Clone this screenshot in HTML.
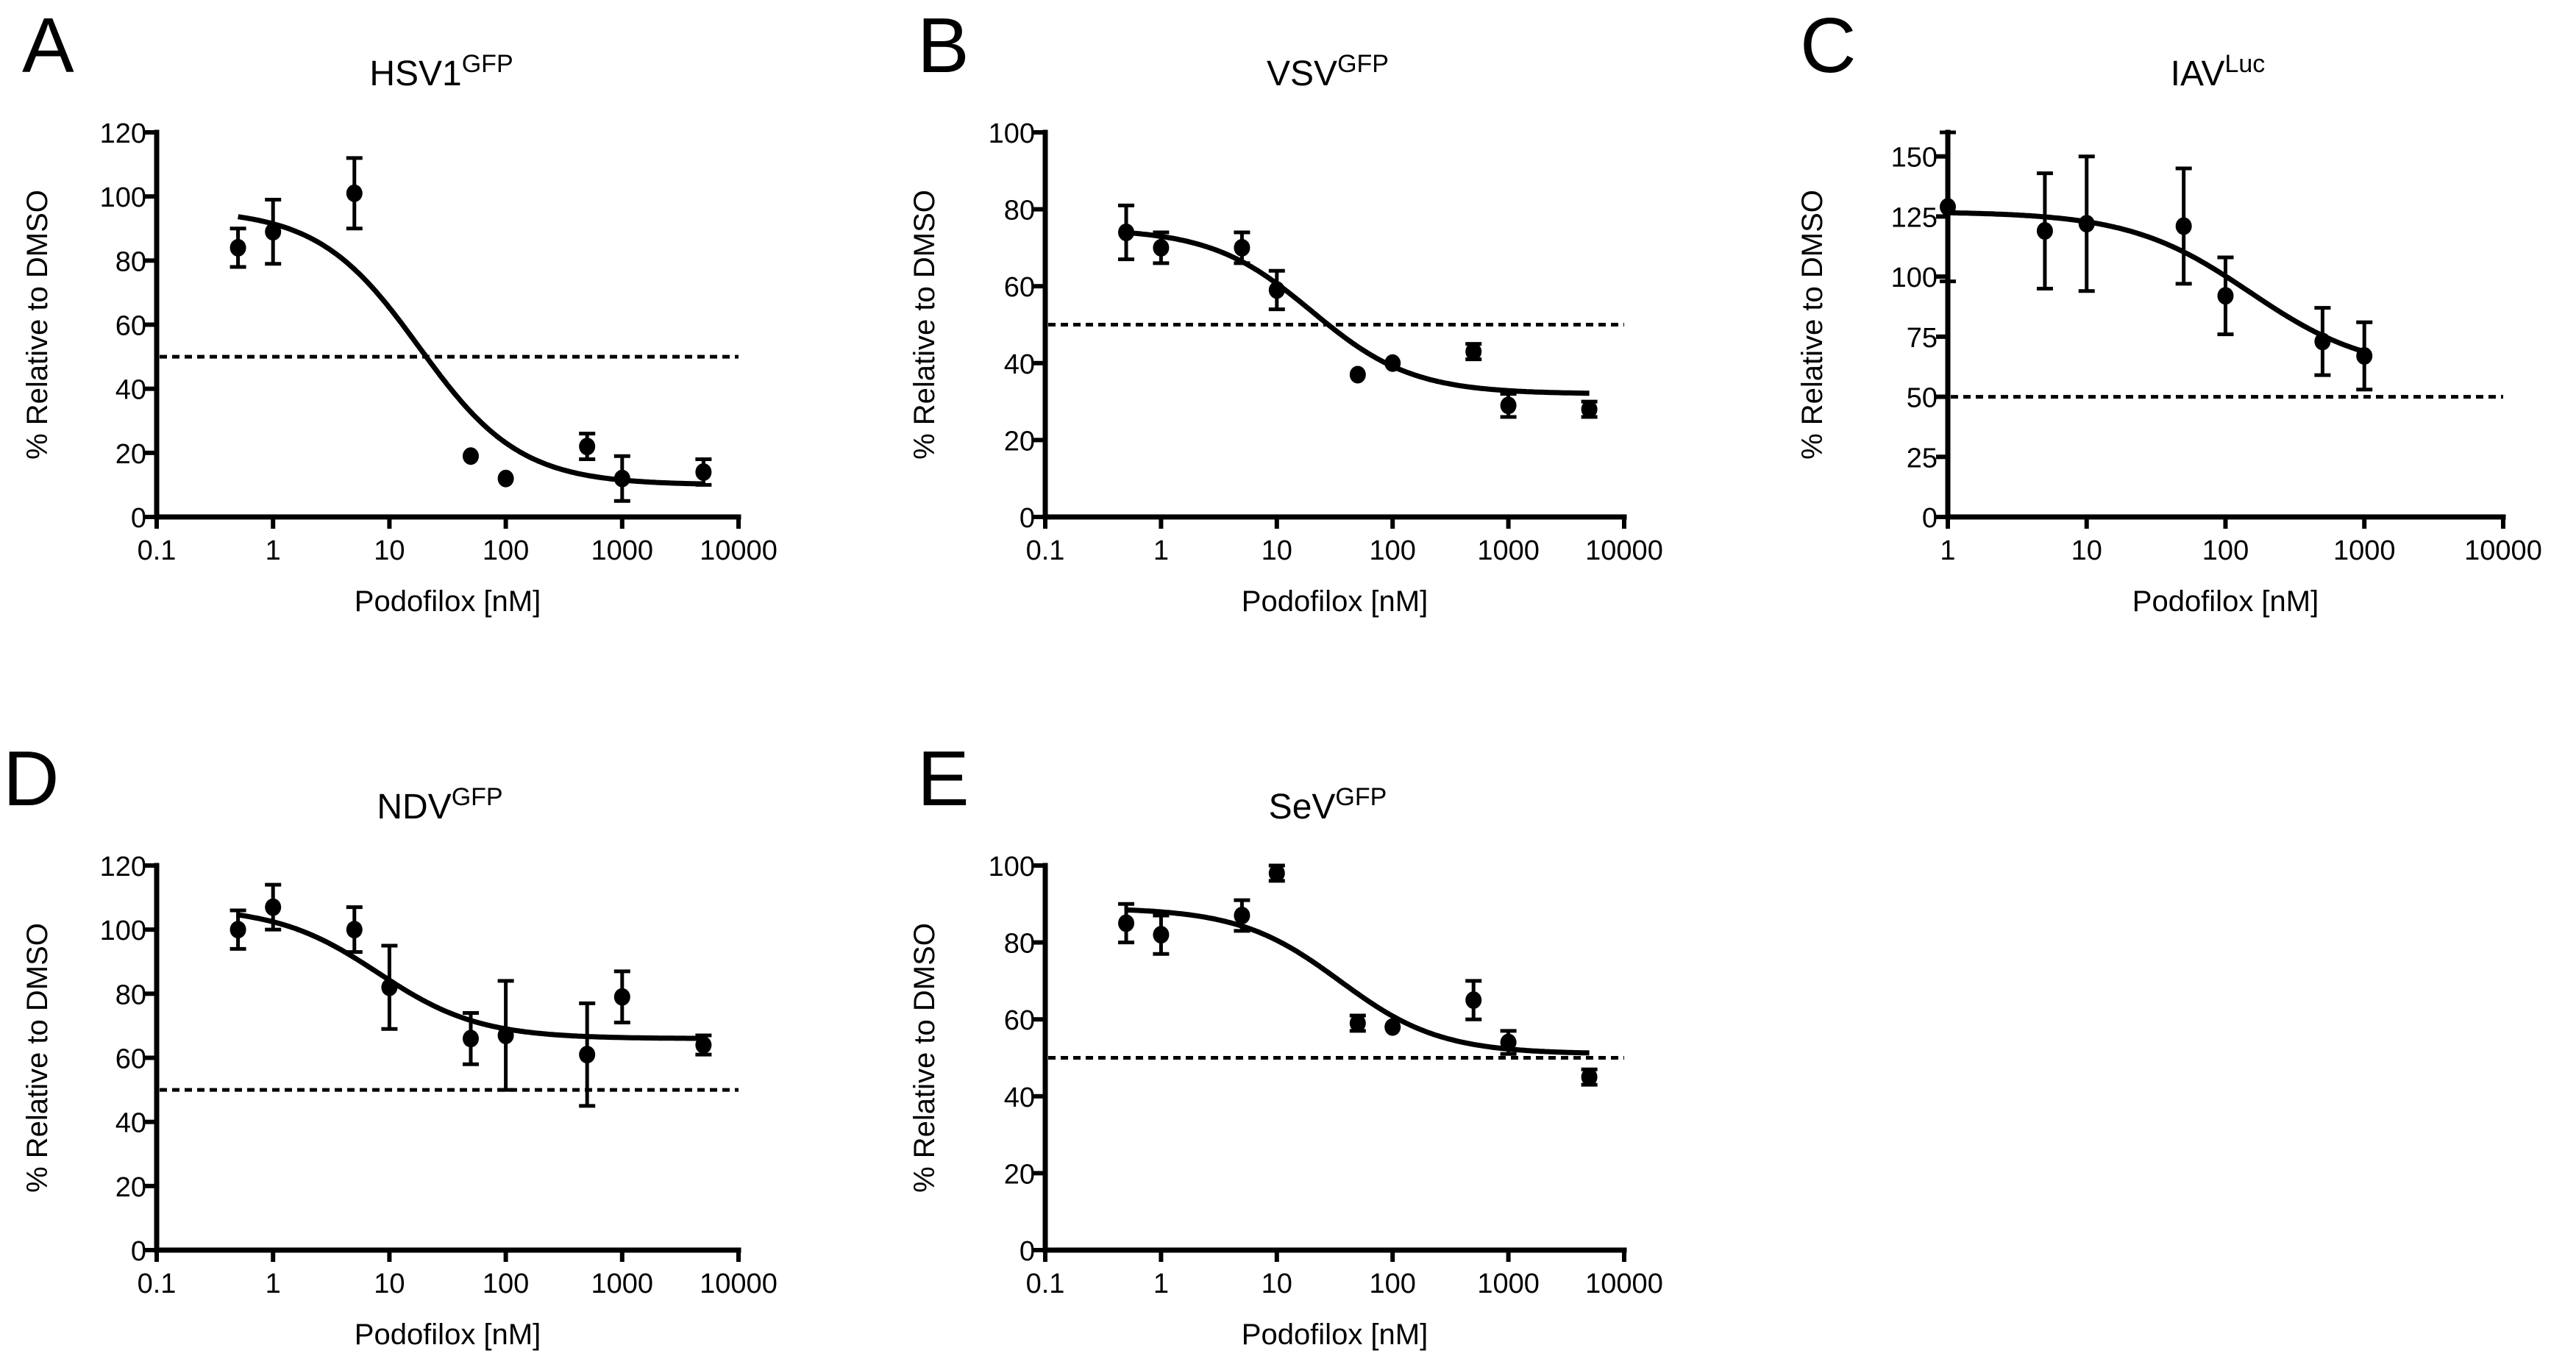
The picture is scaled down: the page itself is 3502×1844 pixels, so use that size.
<!DOCTYPE html>
<html><head><meta charset="utf-8"><style>
html,body{margin:0;padding:0;background:#fff;}
svg{display:block;font-family:"Liberation Sans",Arial,sans-serif;}
</style></head><body>
<svg id="fig" width="3502" height="1844" viewBox="0 0 3502 1844"></svg>
<script>
// ---- data ----
const xA=[0.5,1,5,50,100,500,1000,5000];
const yA=[84,89,101,19,12,22,12,14];
const eA=[6,10,11,0,0,4,7,4];
const fitA=[96,10,18,1];
const xB=[0.5,1,5,10,50,100,500,1000,5000];
const yB=[74,70,70,59,37,40,43,29,28];
const eB=[7,4,4,5,0,0,2,3,2];
const fitB=[75,32,20,1];
const xC=[1,5,10,50,100,500,1000];
const yC=[129,119,122,121,92,73,67];
const eC=[31,24,28,24,16,14,14];
const fitC=[127,60,150,1];
const xD=[0.5,1,5,10,50,100,500,1000,5000];
const yD=[100,107,100,82,66,67,61,79,64];
const eD=[6,7,7,13,8,17,16,8,3];
const fitD=[107,66,8,1];
const xE=[0.5,1,5,10,50,100,500,1000,5000];
const yE=[85,82,87,98,59,58,65,54,45];
const eE=[5,5,4,2,2,0,5,3,2];
const fitE=[89,51,35,1];
const xTicks01=["0.1","1","10","100","1000","10000"];
const xTicks1=["1","10","100","1000","10000"];
const yTicks120=[0,20,40,60,80,100,120];
const yTicks100=[0,20,40,60,80,100];
const yTicks160=[0,25,50,75,100,125,150];

const NS="http://www.w3.org/2000/svg";
const svg=document.getElementById('fig');
function mk(tag,attrs,parent){const e=document.createElementNS(NS,tag);for(const k in attrs)e.setAttribute(k,attrs[k]);(parent||svg).appendChild(e);return e;}

function panel(o){
  const g=mk('g',{});
  
  
  const L=o.left,R=o.right,T=o.top,B=o.bottom;
  const lx0=Math.log10(o.xmin),lx1=Math.log10(o.xmax);
  const sx=v=>L+(Math.log10(v)-lx0)/(lx1-lx0)*(R-L);
  const sy=v=>B-(v-0)/(o.ymax)*(B-T);
  // letter
  const lt=mk('text',{x:o.letterX,y:T-82,'font-size':106,fill:'#000'},g);lt.textContent=o.letter;
  
  
  // title
  const tt=mk('text',{x:o.titleX,y:T-64,'font-size':48,'text-anchor':'middle',fill:'#000'},g);
  
  
  tt.appendChild(document.createTextNode(o.title));
  const sup=mk('tspan',{'font-size':34,dy:-18},tt);sup.textContent=o.sup;
  // y axis title
  const yt=mk('text',{x:0,y:0,'font-size':40,'text-anchor':'middle',transform:`translate(${o.yTitleX+14},${(T+B)/2}) rotate(-90)`},g);
  yt.textContent='% Relative to DMSO';
  
  
  // x axis title
  const xt=mk('text',{x:(L+R)/2,y:B+128,'font-size':40,'text-anchor':'middle'},g);
  xt.textContent='Podofilox [nM]';
  
  
  // axes
  const ax=mk('path',{d:`M${L},${T} V${B} H${R}`,stroke:'#000','stroke-width':7,fill:'none','stroke-linecap':'square'},g);
  
  
  o.yTicks.forEach(v=>{
    mk('line',{x1:L-16,x2:L,y1:sy(v),y2:sy(v),stroke:'#000','stroke-width':6},g);
    const t=mk('text',{x:L-14,y:sy(v)+14,'font-size':38,'text-anchor':'end'},g);t.textContent=v;
    
    
  });
  o.xTicks.forEach(s=>{
    const v=parseFloat(s);
    mk('line',{x1:sx(v),x2:sx(v),y1:B,y2:B+16,stroke:'#000','stroke-width':6},g);
    const t=mk('text',{x:sx(v),y:B+58,'font-size':38,'text-anchor':'middle'},g);t.textContent=s;
    
    
  });
  // dashed 50 line
  const dl=mk('line',{x1:L+4,x2:R,y1:sy(50),y2:sy(50),stroke:'#000','stroke-width':5,'stroke-dasharray':'10 7'},g);
  
  
  // fit curve
  const [top,bot,ec,h]=o.fit;
  const x0=o.xs[0],x1=o.xs[o.xs.length-1];
  let d='';
  for(let i=0;i<=200;i++){
    const lv=Math.log10(x0)+(Math.log10(x1)-Math.log10(x0))*i/200;
    const xv=Math.pow(10,lv);
    const yv=bot+(top-bot)/(1+Math.pow(xv/ec,h));
    d+=(i?'L':'M')+sx(xv).toFixed(1)+','+sy(yv).toFixed(1);
  }
  const cv=mk('path',{d:d,stroke:'#000','stroke-width':7,fill:'none'},g);
  
  
  // points
  o.xs.forEach((xv,i)=>{
    const cx=sx(xv),cy=sy(o.ys[i]),e=o.es[i];
    if(e>0){
      const y1=sy(o.ys[i]+e),y2=sy(o.ys[i]-e);
      const eb=mk('path',{d:`M${cx},${y1}V${y2}M${cx-11},${y1}H${cx+11}M${cx-11},${y2}H${cx+11}`,stroke:'#000','stroke-width':5,fill:'none'},g);
      
      
    }
    const c=mk('ellipse',{cx:cx,cy:cy,rx:11,ry:12,fill:'#000'},g);
    
    
  });
}
panel({letter:'A',letterX:30,title:'HSV1',sup:'GFP',titleX:600,yTitleX:50,left:213,right:1004,top:180,bottom:703,xmin:0.1,xmax:10000,ymax:120,yTicks:yTicks120,xTicks:xTicks01,xs:xA,ys:yA,es:eA,fit:fitA});
panel({letter:'B',letterX:1247,title:'VSV',sup:'GFP',titleX:1805,yTitleX:1256,left:1421,right:2208,top:180,bottom:703,xmin:0.1,xmax:10000,ymax:100,yTicks:yTicks100,xTicks:xTicks01,xs:xB,ys:yB,es:eB,fit:fitB});
panel({letter:'C',letterX:2447,title:'IAV',sup:'Luc',titleX:3015,yTitleX:2463,left:2648,right:3403,top:180,bottom:703,xmin:1,xmax:10000,ymax:160,yTicks:yTicks160,xTicks:xTicks1,xs:xC,ys:yC,es:eC,fit:fitC});
panel({letter:'D',letterX:4,title:'NDV',sup:'GFP',titleX:598,yTitleX:50,left:213,right:1004,top:1177,bottom:1700,xmin:0.1,xmax:10000,ymax:120,yTicks:yTicks120,xTicks:xTicks01,xs:xD,ys:yD,es:eD,fit:fitD});
panel({letter:'E',letterX:1247,title:'SeV',sup:'GFP',titleX:1805,yTitleX:1256,left:1421,right:2208,top:1177,bottom:1700,xmin:0.1,xmax:10000,ymax:100,yTicks:yTicks100,xTicks:xTicks01,xs:xE,ys:yE,es:eE,fit:fitE});
</script>
</body></html>
